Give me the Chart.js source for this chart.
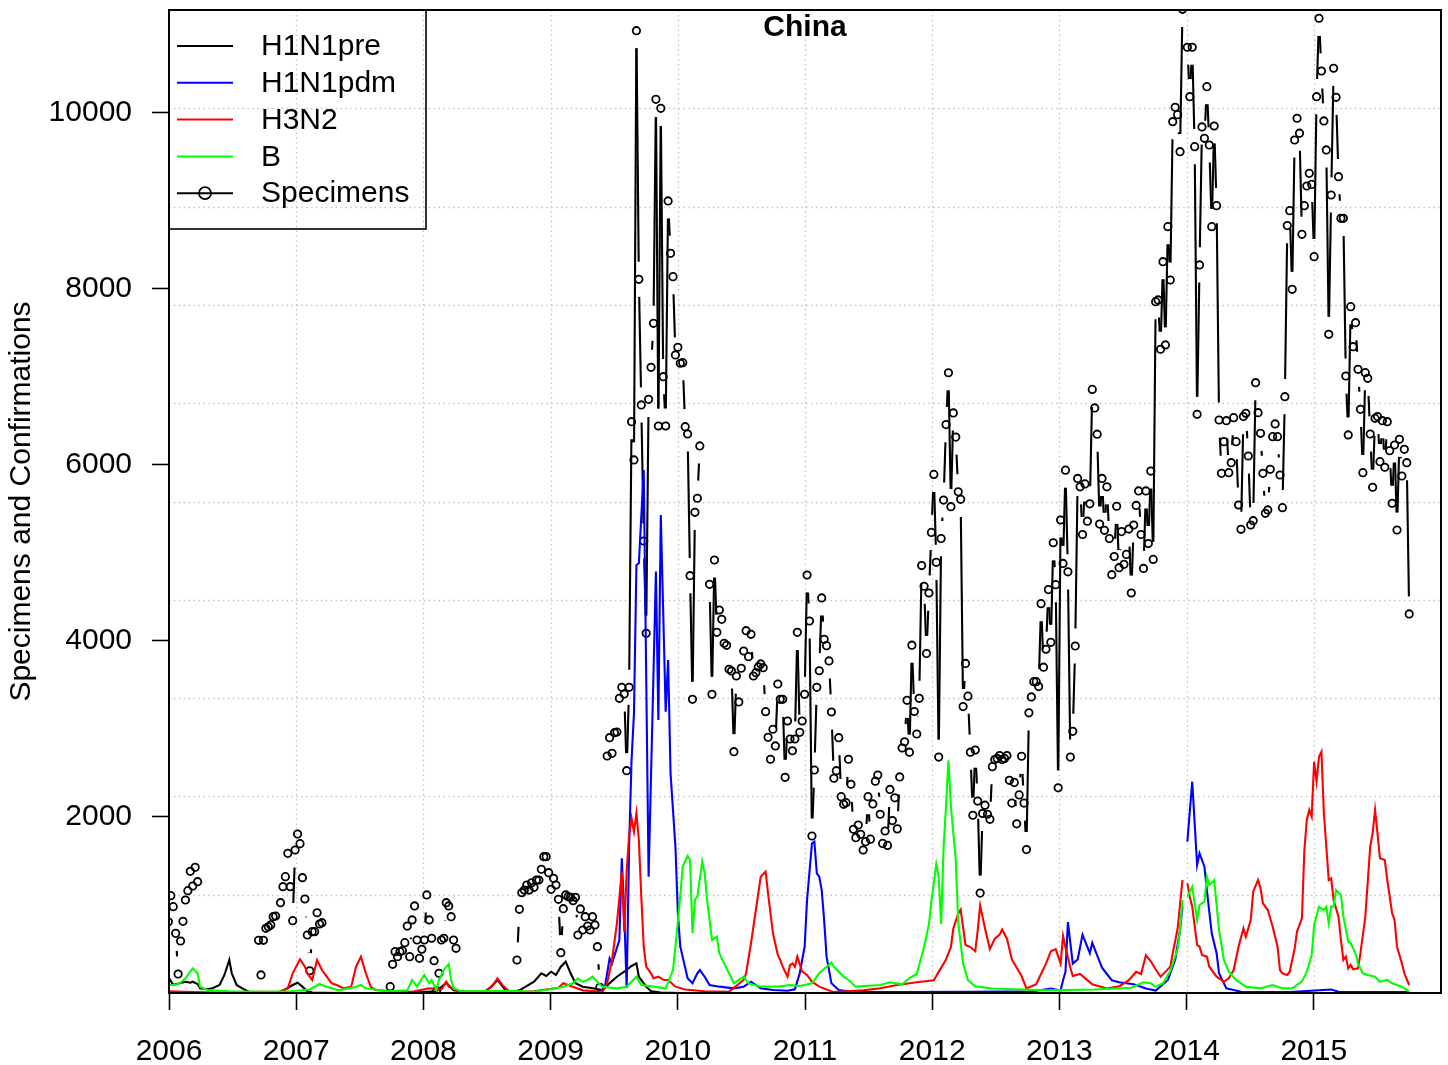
<!DOCTYPE html>
<html><head><meta charset="utf-8">
<script src="https://cdn.jsdelivr.net/npm/chart.js@4/dist/chart.umd.min.js"></script>
<style>html,body{margin:0;padding:0;background:#fff;}canvas{display:block;}</style>
</head><body>
<canvas id="c" width="1448" height="1065"></canvas>
<script>
const FONT = '"Liberation Sans", Arial, Helvetica, sans-serif';
const chartTitle = 'China';
const yTitle = 'Specimens and Confirmations';
const seriesNames = ['H1N1pre', 'H1N1pdm', 'H3N2', 'B', 'Specimens'];
const seriesColors = ['#000000', '#0000ff', '#ff0000', '#00ff00', '#000000'];
const yearTicks = [2006, 2007, 2008, 2009, 2010, 2011, 2012, 2013, 2014, 2015];
const yTickValues = [2000, 4000, 6000, 8000, 10000];
const xMin = 2006, xMax = 2016, yMin = 0, yMax = 11170;
const weekZero = 2005.995;          // date (decimal year) of week 0
const weekLength = 7 / 365.25;      // one week in years

// ---- H1N1pre (black) : week numbers and values ----
const h1preWeeks = [0,2,5,7,9,10,12,13,16,18,21,23,25,26,28,31,33,36,46,51,53,55,57,59,70,90,100,110,114,117,125,130,132,135,138,141,144,150,153,155,157,159,161,163,165,167,170,174,178,181,184,187,190,192,193,196,198,202,210];
const h1preValues = [185,90,113,128,117,128,102,53,42,53,91,205,375,224,91,42,15,5,10,91,117,72,20,5,0,0,5,20,117,30,5,20,60,148,40,10,30,128,224,193,242,205,299,356,224,110,72,53,34,110,185,242,307,337,185,72,20,5,0];

// ---- H1N1pdm (blue) ----
const h1pdmWeeks = [177,179,180,181,182,185,186,187,188,189,190,191,192,193,195,197,200,201,202,204,205,206,208,209,210,213,215,217,218,220,222,226,232,236,239,243,248,254,257,259,261,262,264,265,266,267,268,269,270,272,275,280,300,330,355,362,366,367,368,369,370,371,373,375,376,378,379,381,383,385,387,390,396,401,405,408,410,413,415,416,417,418,420,422,423,425,426,428,430,431,434,440,460,477,480,509];
const h1pdmValues = [10,57,224,394,337,602,1531,906,53,1663,2648,3178,4864,4883,5943,1322,4788,3102,5432,3197,3784,2497,1663,906,526,167,110,224,261,185,91,72,53,72,128,53,34,26,42,224,526,1057,1701,1720,1360,1322,1170,830,413,110,34,15,10,15,20,51,28,145,240,806,570,334,381,663,593,452,570,428,287,216,145,122,99,51,28,99,148,375,716,981,null,1720,2401,1455,1588,1435,1170,678,451,224,53,15,10,40,15,10];

// ---- H3N2 (red) ----
const h3n2Weeks = [0,10,20,30,40,45,49,51,54,56,57,59,60,61,63,65,67,69,72,75,77,79,81,83,85,91,100,107,112,114,115,120,130,133,135,137,140,150,160,162,165,170,175,178,180,182,184,186,187,188,189,190,191,192,193,194,195,196,198,199,201,203,205,208,212,220,230,236,237,239,241,243,245,246,248,250,251,252,254,255,256,257,258,260,262,264,267,273,285,292,299,307,314,316,319,321,322,324,325,327,329,331,332,333,335,337,339,341,342,344,346,348,350,352,356,360,362,364,366,367,368,370,371,374,376,379,385,390,394,397,399,401,403,405,407,409,411,412,414,416,417,418,419,420,422,423,424,426,427,430,433,435,437,439,441,442,444,445,447,448,449,451,453,455,456,457,459,460,461,462,463,465,466,467,468,469,470,471,472,473,474,476,477,478,480,481,482,483,484,485,486,488,489,491,493,494,495,496,497,499,500,502,503,504,506,507,509];
const h3n2Values = [20,10,5,10,15,10,53,224,383,299,224,148,261,375,261,185,110,91,53,72,299,413,224,72,34,20,15,53,40,128,72,10,20,80,167,91,15,20,60,110,80,30,20,10,110,375,792,1379,697,1379,1795,1985,1833,2042,1739,1095,526,299,224,167,185,150,148,72,40,20,15,148,224,565,943,1322,1379,1133,678,432,375,299,185,318,337,299,413,242,205,128,72,10,30,53,91,122,145,240,381,522,734,900,947,546,522,475,711,993,734,499,617,663,720,617,381,287,193,51,100,334,475,499,334,650,520,287,193,216,169,99,51,75,145,240,216,428,360,270,185,240,300,451,730,1284,null,1246,1094,981,546,526,432,413,299,185,128,167,261,526,735,640,830,1151,1284,1190,1019,943,753,526,261,224,205,242,375,500,700,850,1625,1966,2080,2003,2628,2401,2685,2742,2042,1284,1303,1057,867,602,375,413,280,318,269,280,451,867,1663,1815,2080,1815,1531,1511,1284,906,830,526,337,224,91];

// ---- B (green) ----
const bWeeks = [0,3,5,7,9,10,12,13,16,25,40,50,58,62,65,70,77,79,81,90,98,100,102,105,107,108,110,111,113,115,116,117,120,140,150,159,162,164,166,168,170,172,174,176,178,184,188,192,194,199,204,207,208,210,211,213,214,215,216,217,219,220,221,223,225,226,228,230,232,234,236,238,243,250,255,259,264,267,270,272,273,275,277,279,282,292,296,301,304,307,310,312,313,315,316,317,318,319,320,321,323,324,326,328,331,338,350,360,380,395,400,403,405,408,411,414,415,416,417,418,420,422,423,425,426,427,429,431,433,435,438,442,448,453,457,461,465,467,469,470,472,474,475,476,477,478,479,481,482,484,485,487,488,490,492,495,497,500,502,506,509];
const bValues = [91,91,117,167,242,280,224,72,34,20,15,20,40,102,72,30,72,91,53,20,30,148,72,205,110,148,34,148,261,330,148,53,20,25,15,53,72,91,110,167,128,148,185,128,72,53,72,185,91,72,53,261,526,1100,1436,1557,1511,678,1057,1095,1492,1360,1057,602,640,451,337,224,110,148,185,110,72,72,91,80,110,224,299,345,299,242,185,148,72,91,122,99,169,216,522,781,1040,1465,1324,781,1653,2125,2643,2125,1511,806,334,145,75,51,40,30,40,60,122,110,72,110,250,500,716,1057,null,1094,1208,830,1000,1038,1322,1227,1284,716,375,242,148,72,53,91,53,53,130,240,430,770,981,943,981,792,981,981,1170,1114,867,583,565,451,337,224,205,185,128,148,110,72,15];

// ---- Specimens: runs of consecutive weekly values, each with its first week ----
const specRunStarts = [0, 37, 46, 91, 143, 180, 222, 418];
const specRun0 = [810,1106,981,678,216,591,814,1057,1163,1383,1216,1428,1265];
const specRun1 = [599,205,599,735,753,773,867,875];
const specRun2 = [1026,1208,1322,1587,1208,822,1625,1807,1697,1310,1068,659,253,697,697,912,784,799];
const specRun3 = [72,326,470,413,470,481,572,761,413,830,989,602,394,497,602,1114,830,622,367,26,224,602,622,1026,989,867,602,508];
const specRun4 = [375,951,1140,1170,1227,1170,1253,1201,1284,1284,1406,1549,1549,1367,1178,1303,1227,1065,458,958,1114,1094,1087,1049,1087,659,955,716,867,761,716,867,773,526,65];
const specRun5 = [2693,2901,2723,2958,2966,3349,3474,3398,2526,3474,6492,6057,10935,8110,6682,5136,4087,6746,7110,7610,10155,6443,10053,7003,6443,9000,8405,8140,7250,7337,7156,7163,6435,6352,4742,3337,5462,5622,6216];
const specRun6 = [4644,3394,4920,4098,4352,4246,3974,3951,3678,3659,
2742,3602,3307,3690,3886,4117,3822,4076,3602,3640,
3705,3739,3697,3197,2905,2656,2997,2807,3511,3337,
3337,2451,3091,2886,2753,2886,4098,2962,3091,3394,
4750,4227,1784,2534,3474,3662,4489,4019,3947,3773,
3193,2440,2526,2901,2231,2144,2163,2656,2372,1860,
1765,1909,1803,1625,1720,2231,1748,2148,2407,2477,
2031,1700,1841,1677,2313,1959,2218,1865,2455,2784,
2855,3326,2736,3952,3199,2943,3349,4857,4622,3858,
4545,5234,5893,4894,2681,5164,5601,6459,7048,5526,
6591,6317,5695,5610,3255,3745,3373,2736,2020,2760,
2181,1135,2040,2134,2031,1974,2572,2652,2666,2699,
2652,2666,2699,2417,2158,2393,1922,2251,2690,2158,
1630,3184,3364,3538,3538,3482,4424,3702,3906,4584,
3985,5116,4640,2332,5375,4881,5941,4786,2681,2973,
3943,5847,5752,5210,5785,5361,5559,6859,6648,6350,
5328,5847,5258,5752,5164,4753,4960,5531,4833,5243,
4871,4984,5272,4545,5318,5540,5705,5210,4824,5705,
5107,5931,4927,7856,7875,7315,8310,7364,8708,8102,
9901,10064,9981,9560,11178];
const specRun7 = [10747,10185,10747,9617,6576,8273,9841,9712,10299,9636,
8708,9852,8947,6511,5905,6265,6503,5913,6026,6538,
6265,5545,5269,6550,6587,6102,5318,5367,6935,6594,
6360,5905,5451,5489,5951,6322,6466,6322,5886,5515,
6776,8720,8890,7996,9693,9940,9770,8621,8947,9170,
9314,9188,8367,10185,11076,10477,9909,9580,7485,
9068,10508,10178,9276,8803,8803,7011,6341,7799,7344,
7617,7087,6632,5913,7049,6985,6352,5747,6530,6550,
6038,6503,5974,6492,6163,5565,6227,5261,6292,5875,
6178,6026,4307];
const specRuns = [specRun0, specRun1, specRun2, specRun3, specRun4, specRun5, specRun6, specRun7];

// ---- helpers ----
const weekToYear = w => weekZero + w * weekLength;
function pairs(weeks, values) {
  return weeks.map((w, i) => ({ x: weekToYear(w), y: values[i] }));
}
function runsToPoints(starts, runs) {
  const pts = [];
  runs.forEach((run, r) => {
    if (r > 0) pts.push({ x: weekToYear(starts[r] - 0.5), y: null });
    run.forEach((v, i) => pts.push({ x: weekToYear(starts[r] + i), y: v }));
  });
  return pts;
}

const lineStyle = { borderWidth: 2.1, pointRadius: 0, pointHoverRadius: 0, tension: 0, fill: false, spanGaps: false };

const datasets = [
  Object.assign({ label: seriesNames[0], data: pairs(h1preWeeks, h1preValues), borderColor: seriesColors[0], order: 3 }, lineStyle),
  Object.assign({ label: seriesNames[1], data: pairs(h1pdmWeeks, h1pdmValues), borderColor: seriesColors[1], order: 2 }, lineStyle),
  Object.assign({ label: seriesNames[2], data: pairs(h3n2Weeks, h3n2Values), borderColor: seriesColors[2], order: 1 }, lineStyle),
  Object.assign({ label: seriesNames[3], data: pairs(bWeeks, bValues), borderColor: seriesColors[3], order: 0 }, lineStyle),
  {
    label: seriesNames[4], data: runsToPoints(specRunStarts, specRuns),
    borderColor: seriesColors[4], backgroundColor: 'rgba(0,0,0,0)',
    showLine: false, pointStyle: 'circle', pointRadius: 3.7, pointBorderWidth: 1.8,
    pointBackgroundColor: 'rgba(0,0,0,0)', pointBorderColor: seriesColors[4],
    order: 4, gapped: true, gapSize: 17.6, gapLineWidth: 2.1
  }
];

// R-style "type b" line: segments between consecutive points, trimmed near each point
const gappedLine = {
  id: 'gappedLine',
  afterDatasetDraw(chart, args) {
    const ds = chart.data.datasets[args.index];
    if (!ds.gapped) return;
    const pts = args.meta.data, ctx = chart.ctx, a = chart.chartArea, g = ds.gapSize;
    ctx.save();
    ctx.beginPath(); ctx.rect(a.left, a.top, a.right - a.left, a.bottom - a.top); ctx.clip();
    ctx.strokeStyle = ds.borderColor; ctx.lineWidth = ds.gapLineWidth; ctx.lineCap = 'butt';
    for (let i = 0; i < pts.length - 1; i++) {
      const p = pts[i], q = pts[i + 1];
      if (p.skip || q.skip) continue;
      const dx = q.x - p.x, dy = q.y - p.y, L = Math.hypot(dx, dy);
      if (L <= 2 * g) continue;
      const ux = dx / L, uy = dy / L;
      ctx.beginPath();
      ctx.moveTo(p.x + ux * g, p.y + uy * g);
      ctx.lineTo(q.x - ux * g, q.y - uy * g);
      ctx.stroke();
    }
    ctx.restore();
  }
};

// dotted grid: 10 x 10 cells over the plotting region
const dottedGrid = {
  id: 'dottedGrid',
  beforeDatasetsDraw(chart) {
    const ctx = chart.ctx, a = chart.chartArea, xs = chart.scales.x, ys = chart.scales.y;
    ctx.save();
    ctx.strokeStyle = '#c4c4c4'; ctx.lineWidth = 1.3; ctx.setLineDash([1.5, 3.4]);
    for (let k = 1; k < 10; k++) {
      const px = Math.round(xs.getPixelForValue(xMin + (xMax - xMin) * k / 10)) + 0.5;
      ctx.beginPath(); ctx.moveTo(px, a.top); ctx.lineTo(px, a.bottom); ctx.stroke();
      const py = Math.round(ys.getPixelForValue(yMin + (yMax - yMin) * k / 10)) + 0.5;
      ctx.beginPath(); ctx.moveTo(a.left, py); ctx.lineTo(a.right, py); ctx.stroke();
    }
    ctx.restore();
  }
};

// frame, title and legend box
const decorations = {
  id: 'decorations',
  afterDraw(chart) {
    const ctx = chart.ctx, a = chart.chartArea;
    ctx.save();
    ctx.strokeStyle = '#000'; ctx.lineWidth = 2; ctx.setLineDash([]);
    ctx.strokeRect(a.left, a.top, a.right - a.left, a.bottom - a.top);
    // title
    ctx.fillStyle = '#000';
    ctx.font = 'bold 30px ' + FONT;
    ctx.textAlign = 'center'; ctx.textBaseline = 'middle';
    ctx.fillText(chartTitle, (a.left + a.right) / 2, a.top + 18);
    // legend
    const lw = 257, lh = 219;
    ctx.lineWidth = 1.6;
    ctx.strokeRect(a.left, a.top, lw, lh);
    ctx.font = '30px ' + FONT;
    ctx.textAlign = 'left';
    const dsets = chart.data.datasets;
    dsets.forEach((ds, i) => {
      const cy = a.top + 36 + i * 36.8;
      ctx.strokeStyle = ds.borderColor; ctx.lineWidth = 2;
      ctx.beginPath(); ctx.moveTo(a.left + 8, cy); ctx.lineTo(a.left + 64, cy); ctx.stroke();
      if (ds.gapped) {
        ctx.lineWidth = 1.8;
        ctx.beginPath(); ctx.arc(a.left + 36, cy, 6, 0, Math.PI * 2); ctx.stroke();
      }
      ctx.fillStyle = '#000';
      ctx.fillText(ds.label, a.left + 92, cy + 1);
    });
    ctx.restore();
  }
};

const noPad = s => { s.paddingTop = 0; s.paddingBottom = 0; s.paddingLeft = 0; s.paddingRight = 0; };

new Chart(document.getElementById('c'), {
  type: 'line',
  data: { datasets },
  plugins: [dottedGrid, gappedLine, decorations],
  options: {
    responsive: false, animation: false, devicePixelRatio: 1,
    layout: { padding: { left: 0, right: 7, top: 10, bottom: 0 } },
    plugins: { legend: { display: false }, tooltip: { enabled: false }, title: { display: false } },
    scales: {
      x: {
        type: 'linear', min: xMin, max: xMax,
        afterBuildTicks: s => { s.ticks = yearTicks.map(v => ({ value: v })); },
        afterFit: s => { s.height = 72; noPad(s); },
        border: { display: false },
        grid: { drawOnChartArea: false, drawTicks: true, tickLength: 17, tickColor: '#000', tickWidth: 1.6 },
        ticks: { font: { family: FONT, size: 30 }, color: '#000', padding: 24, maxRotation: 0, autoSkip: false, callback: v => String(v) }
      },
      y: {
        type: 'linear', min: yMin, max: yMax,
        afterBuildTicks: s => { s.ticks = yTickValues.map(v => ({ value: v })); },
        afterFit: s => { s.width = 169; noPad(s); },
        border: { display: false },
        grid: { drawOnChartArea: false, drawTicks: true, tickLength: 17, tickColor: '#000', tickWidth: 1.6 },
        ticks: { font: { family: FONT, size: 30 }, color: '#000', padding: 20, autoSkip: false, callback: v => String(v) },
        title: { display: true, text: yTitle, font: { family: FONT, size: 30 }, color: '#000', padding: { top: 4, bottom: 0 } }
      }
    }
  }
});
</script>
</body></html>
